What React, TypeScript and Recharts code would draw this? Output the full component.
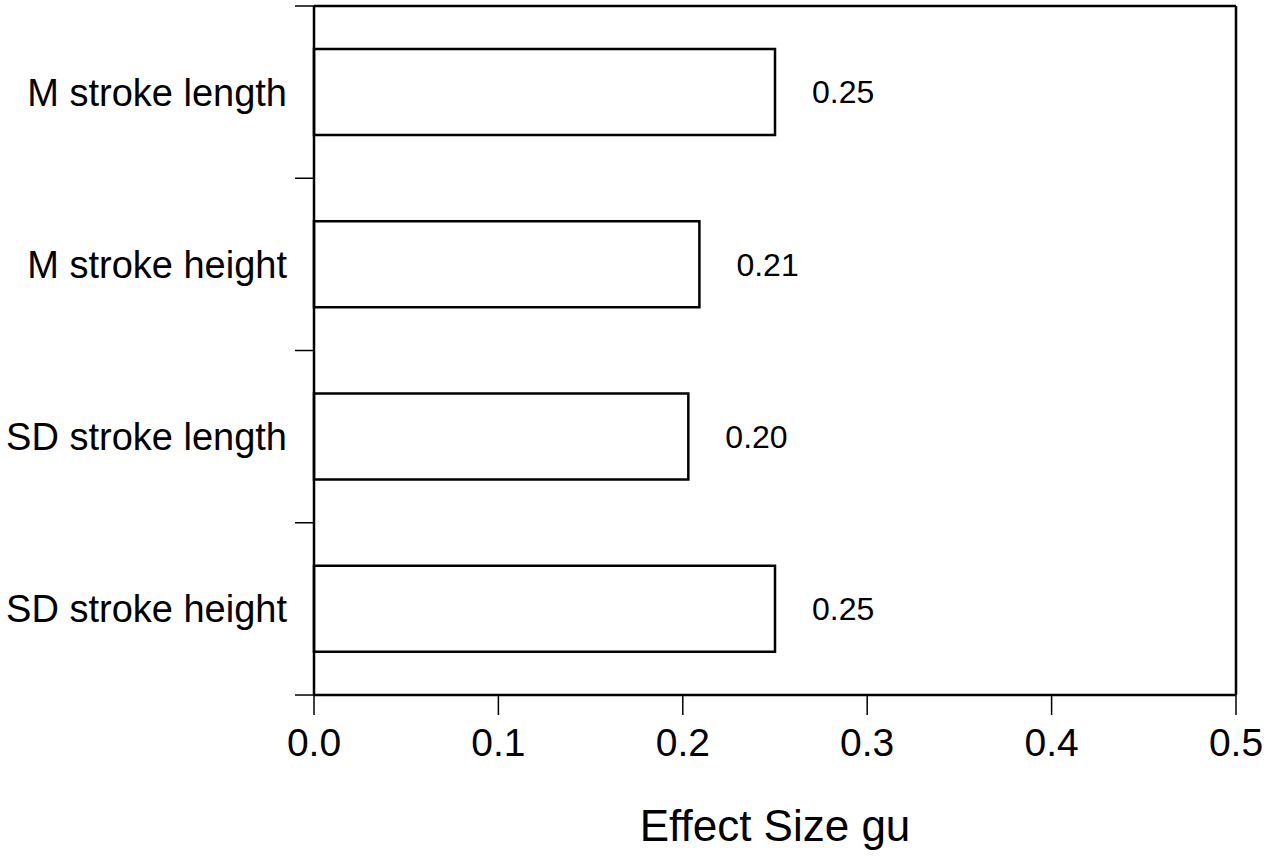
import {
    BarChart,
    Bar,
    XAxis,
    YAxis,
    LabelList,
} from 'recharts';

// Effect sizes
const categories = ['M stroke length', 'M stroke height', 'SD stroke length', 'SD stroke height'];
const effectSizes = [0.25, 0.209, 0.203, 0.25];
const xTicks = [0, 0.1, 0.2, 0.3, 0.4, 0.5];

const data = categories.map((name, i) => ({ name, value: effectSizes[i] }));

const font = '"Liberation Sans", Arial, Helvetica, sans-serif';

const W = 1267;
const H = 857;
// the top/right frame axes take 1px each
const margin = { top: 5, right: 30, left: 0, bottom: 16 };
const xAxisHeight = 146;
const plotHeight = H - margin.top - 1 - margin.bottom - xAxisHeight;
const band = plotHeight / categories.length;

// label in the band centre, tick mark on the band boundary above (and below the last)
function CategoryTick(props: any) {
    const { x, y, payload, index } = props;
    const top = y - band / 2;
    return (
        <g>
            <line x1={x - 19} x2={x} y1={top} y2={top} stroke="#000" strokeWidth={1.5} />
            {index === categories.length - 1 && (
                <line x1={x - 19} x2={x} y1={top + band} y2={top + band} stroke="#000" strokeWidth={1.5} />
            )}
            <text
                x={x - 27}
                y={y}
                dy="0.355em"
                textAnchor="end"
                fill="#000"
                fontSize={38}
                fontFamily={font}
            >
                {payload.value}
            </text>
        </g>
    );
}

export default function App() {
    return (
        <div style={{ position: 'absolute', left: 0, top: 0, background: '#fff', fontFamily: font }}>
            <BarChart
                width={W}
                height={H}
                data={data}
                layout="vertical"
                margin={margin}
                barCategoryGap="25%"
            >
                <YAxis
                    type="category"
                    dataKey="name"
                    width={314}
                    axisLine={{ stroke: '#000', strokeWidth: 2.5 }}
                    tickLine={false}
                    tickSize={0}
                    tickMargin={0}
                    tick={<CategoryTick />}
                />
                <YAxis
                    yAxisId="right"
                    orientation="right"
                    type="category"
                    dataKey="name"
                    width={1}
                    axisLine={{ stroke: '#000', strokeWidth: 2.5 }}
                    tickLine={false}
                    tick={false}
                />
                <XAxis
                    type="number"
                    domain={[0, 0.5]}
                    ticks={xTicks}
                    tickFormatter={(v: number) => v.toFixed(1)}
                    height={xAxisHeight}
                    tickSize={20}
                    tickMargin={13}
                    axisLine={{ stroke: '#000', strokeWidth: 2.5 }}
                    tickLine={{ stroke: '#000', strokeWidth: 1.5 }}
                    tick={{ fill: '#000', fontSize: 39, fontFamily: font }}
                    label={{
                        value: 'Effect Size gu',
                        position: 'insideBottom',
                        offset: 0,
                        fill: '#000',
                        fontSize: 44,
                        fontFamily: font,
                    }}
                />
                <XAxis
                    xAxisId="top"
                    orientation="top"
                    type="number"
                    domain={[0, 0.5]}
                    height={1}
                    axisLine={{ stroke: '#000', strokeWidth: 2.5 }}
                    tickLine={false}
                    tick={false}
                />
                <Bar
                    dataKey="value"
                    fill="#fff"
                    stroke="#000"
                    strokeWidth={2.5}
                    isAnimationActive={false}
                >
                    <LabelList
                        dataKey="value"
                        position="right"
                        offset={37}
                        formatter={(v: number) => v.toFixed(2)}
                        fill="#000"
                        fontSize={32}
                        fontFamily={font}
                    />
                </Bar>
            </BarChart>
        </div>
    );
}
